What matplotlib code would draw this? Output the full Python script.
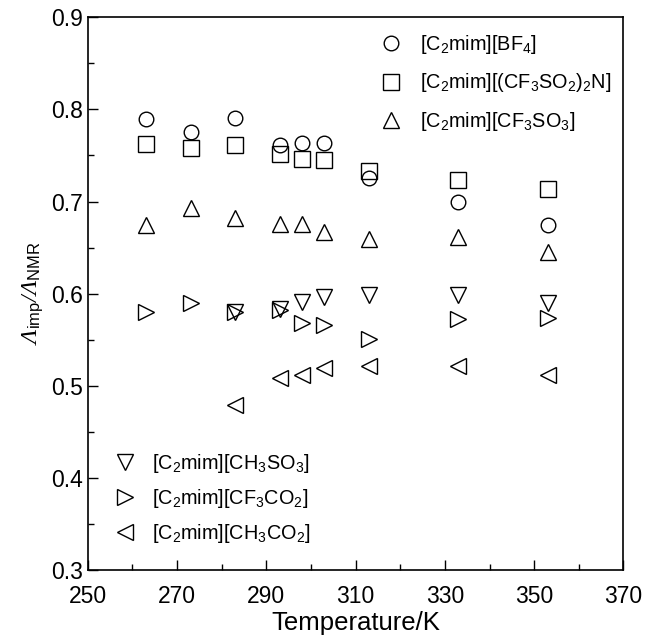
import matplotlib
matplotlib.use("Agg")
import matplotlib.pyplot as plt

plt.rcParams["font.family"] = ["Liberation Sans", "DejaVu Sans"]
plt.rcParams["mathtext.fontset"] = "custom"
plt.rcParams["mathtext.rm"] = "Liberation Sans"
plt.rcParams["mathtext.it"] = "Liberation Sans:italic"
plt.rcParams["mathtext.default"] = "rm"

# ── data ────────────────────────────────────────────────────────────────────
temp_full = [263, 273, 283, 293, 298, 303, 313, 333, 353]
temp_acet = [283, 293, 298, 303, 313, 333, 353]

bf4      = [0.790, 0.775, 0.791, 0.761, 0.764, 0.764, 0.726, 0.700, 0.675]
tfsi     = [0.762, 0.758, 0.761, 0.752, 0.746, 0.745, 0.733, 0.723, 0.714]
otf      = [0.675, 0.693, 0.682, 0.676, 0.676, 0.667, 0.659, 0.661, 0.645]
ch3so3   = [0.580, 0.583, 0.591, 0.596, 0.599, 0.599, 0.590]
cf3co2   = [0.580, 0.590, 0.580, 0.582, 0.568, 0.566, 0.551, 0.573, 0.574]
ch3co2   = [0.479, 0.509, 0.512, 0.519, 0.522, 0.521, 0.512]

labels_top = [r"[C$_2$mim][BF$_4$]",
              r"[C$_2$mim][(CF$_3$SO$_2$)$_2$N]",
              r"[C$_2$mim][CF$_3$SO$_3$]"]
labels_bot = [r"[C$_2$mim][CH$_3$SO$_3$]",
              r"[C$_2$mim][CF$_3$CO$_2$]",
              r"[C$_2$mim][CH$_3$CO$_2$]"]

# ── figure ──────────────────────────────────────────────────────────────────
fig = plt.figure(figsize=(6.46, 6.37), dpi=100)
ax = fig.add_axes([0.136, 0.105, 0.829, 0.868])

style = dict(ls="none", mfc="none", mec="black", mew=1.0)
h1, = ax.plot(temp_full, bf4, "o", ms=10.5, **style)
h2, = ax.plot(temp_full, tfsi, "s", ms=11, **style)
h3, = ax.plot(temp_full, otf, "^", ms=11.5, **style)
h4, = ax.plot(temp_acet, ch3so3, "v", ms=11.5, **style)
h5, = ax.plot(temp_full, cf3co2, ">", ms=11.5, **style)
h6, = ax.plot(temp_acet, ch3co2, "<", ms=11.5, **style)

ax.set_xlim(250, 370)
ax.set_ylim(0.3, 0.9)
ax.set_xticks(range(250, 371, 20))
ax.set_xticks(range(260, 371, 20), minor=True)
ax.set_yticks([0.3, 0.4, 0.5, 0.6, 0.7, 0.8, 0.9])
ax.set_yticks([0.35, 0.45, 0.55, 0.65, 0.75, 0.85], minor=True)
ax.set_yticklabels(["0.3", "0.4", "0.5", "0.6", "0.7", "0.8", "0.9"])
ax.tick_params(which="both", direction="in", width=1.0, labelsize=16.5)
ax.tick_params(which="major", length=7)
ax.tick_params(which="minor", length=4)
ax.tick_params(axis="x", pad=11)
for sp in ax.spines.values():
    sp.set_linewidth(1.2)

ax.set_xlabel("Temperature/K", fontsize=18.5, labelpad=2)
# Lambda in serif italic, subscripts come from mathtext.rm (sans)
ax.set_ylabel(r"Λ$_{\rm imp}$/Λ$_{\rm NMR}$", fontsize=17,
              family=["Liberation Serif", "DejaVu Serif"], style="italic")

# two legends: ionic liquids with fluorinated anions top right, the rest bottom left
leg_kw = dict(frameon=False, fontsize=14.3, handlelength=1.0, borderpad=0,
              borderaxespad=0, loc="center left")
leg1 = ax.legend([h1, h2, h3], labels_top, bbox_to_anchor=(0.548, 0.881),
                 labelspacing=0.78, handletextpad=0.95, **leg_kw)
ax.add_artist(leg1)
ax.legend([h4, h5, h6], labels_bot, bbox_to_anchor=(0.050, 0.130),
          labelspacing=0.6, handletextpad=0.9, **leg_kw)

fig.savefig("out.png", dpi=100)
